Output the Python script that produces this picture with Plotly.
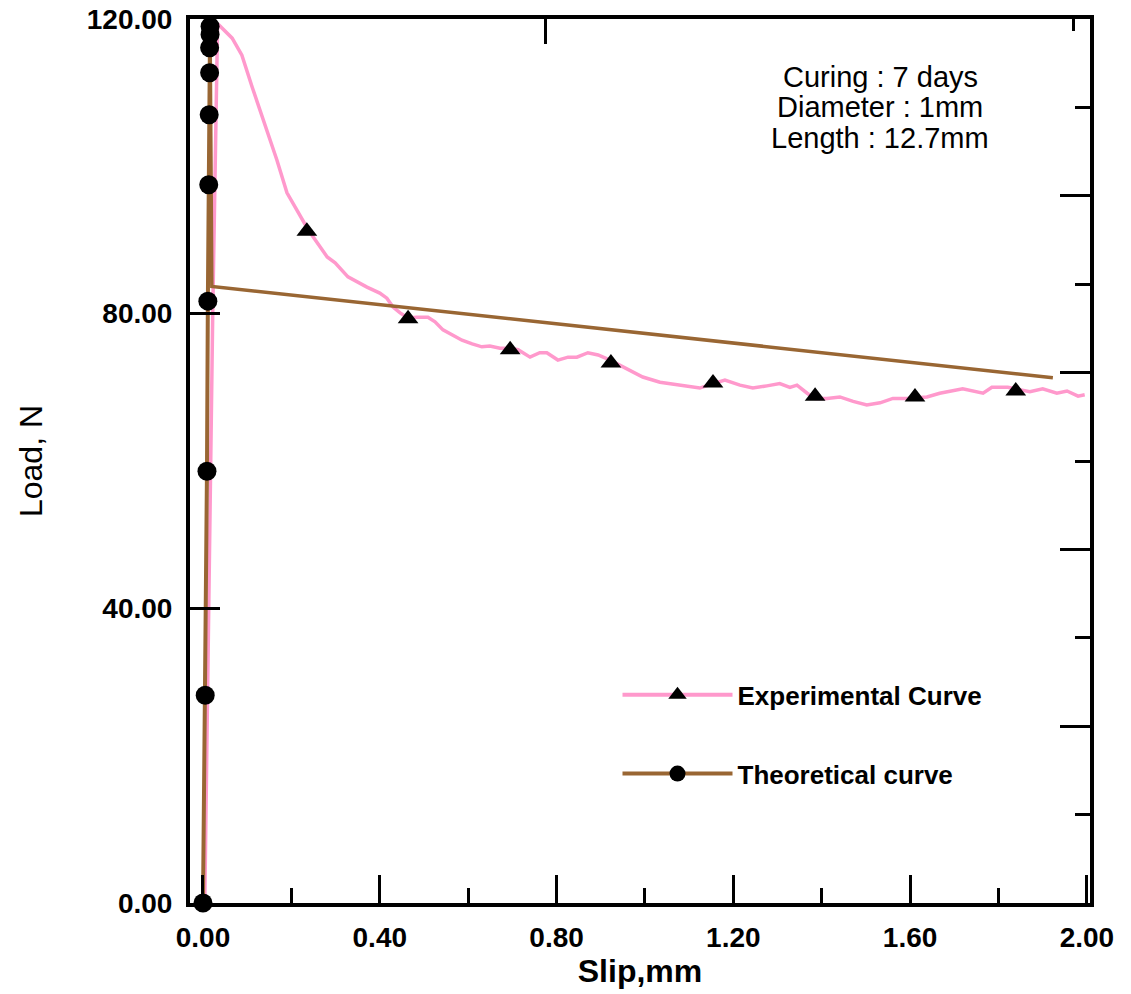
import plotly.graph_objects as go

# ---------------- data ----------------
# Experimental curve (pink line)
exp_slip = [0.004, 0.022, 0.033, 0.036, 0.066, 0.088, 0.111, 0.129, 0.152, 0.167, 0.190, 0.213, 0.238,
            0.281, 0.299, 0.328, 0.371, 0.400, 0.416, 0.430, 0.446, 0.464, 0.484, 0.509, 0.525,
            0.543, 0.566, 0.586, 0.609, 0.631, 0.649, 0.672, 0.695, 0.713, 0.740, 0.762, 0.778,
            0.803, 0.826, 0.846, 0.871, 0.894, 0.921, 0.950, 0.995, 1.034, 1.079, 1.124, 1.154,
            1.181, 1.215, 1.244, 1.276, 1.305, 1.328, 1.344, 1.367, 1.385, 1.412, 1.441, 1.471,
            1.502, 1.532, 1.561, 1.593, 1.638, 1.667, 1.719, 1.765, 1.785, 1.821, 1.871, 1.900,
            1.932, 1.955, 1.980, 1.995]
exp_load = [0.0, 80.0, 119.3, 119.2, 117.4, 115.1, 110.8, 107.6, 103.6, 100.9, 96.4, 94.1, 91.4,
            87.7, 86.9, 85.0, 83.6, 82.8, 82.1, 80.9, 80.1, 79.4, 79.5, 79.5, 78.9,
            77.8, 77.1, 76.4, 75.9, 75.5, 75.6, 75.3, 75.3, 75.1, 74.1, 74.7, 74.7,
            73.7, 74.1, 74.1, 74.7, 74.4, 73.7, 72.8, 71.4, 70.7, 70.3, 69.9, 70.5,
            71.0, 70.3, 69.9, 70.2, 70.5, 70.0, 70.3, 69.2, 68.5, 68.5, 68.7, 68.1,
            67.6, 67.9, 68.5, 68.5, 68.7, 69.2, 69.8, 69.2, 70.0, 70.0, 69.4, 69.8,
            69.2, 69.5, 68.8, 69.0]
# Experimental triangle markers
exp_mk_slip = [0.235, 0.464, 0.695, 0.923, 1.154, 1.385, 1.611, 1.839]
exp_mk_load = [91.2, 79.3, 75.1, 73.3, 70.6, 68.8, 68.7, 69.5]

# Theoretical curve: rising branch (with circles) and softening branch
theo_up_slip = [0.000, 0.005, 0.009, 0.011, 0.013, 0.014, 0.015, 0.015, 0.016, 0.016]
theo_up_load = [0.0, 28.2, 58.6, 81.7, 97.5, 107.0, 112.7, 116.1, 117.9, 119.0]
theo_down_slip = [0.016, 0.020, 1.923]
theo_down_load = [119.0, 83.7, 71.3]

# axis ticks
x_ticks = [0.0, 0.4, 0.8, 1.2, 1.6, 2.0]
y_ticks = [0, 40, 80, 120]
right_major = [24, 48, 72, 96]
right_minor = [12, 36, 60, 84, 108]
top_major = [0.774]
top_minor = [1.97]

annot_lines = ["Curing : 7 days", "Diameter : 1mm", "Length : 12.7mm"]
annot_y = [0.9344, 0.9005, 0.8654]

PINK = "#FF99CC"
BROWN = "#996633"
FONT = "Liberation Sans, Arial, sans-serif"

fig = go.Figure()

# pink experimental line
fig.add_trace(go.Scatter(x=exp_slip, y=exp_load, mode="lines",
                         line=dict(color=PINK, width=3.5), showlegend=False,
                         legendgroup="exp", hoverinfo="skip"))

# theoretical softening branch line
fig.add_trace(go.Scatter(x=theo_down_slip, y=theo_down_load, mode="lines",
                         line=dict(color=BROWN, width=3.5), showlegend=False,
                         legendgroup="theo", hoverinfo="skip"))

# experimental triangle markers (gaps so no chord lines are drawn)
tx, ty = [], []
for a, b in zip(exp_mk_slip, exp_mk_load):
    tx += [a, None]
    ty += [b, None]
fig.add_trace(go.Scatter(x=tx, y=ty, mode="lines+markers", name="Experimental Curve",
                         line=dict(color=PINK, width=4), connectgaps=False,
                         marker=dict(symbol="triangle-up", size=18, color="black"),
                         legendgroup="exp", cliponaxis=False,
                         xaxis="x2", yaxis="y2"))

# theoretical rising branch with circle markers
fig.add_trace(go.Scatter(x=theo_up_slip, y=theo_up_load, mode="lines+markers",
                         name="Theoretical curve",
                         line=dict(color=BROWN, width=4),
                         marker=dict(symbol="circle", size=19, color="black"),
                         legendgroup="theo", cliponaxis=False,
                         xaxis="x2", yaxis="y2"))

xr = [-0.0294, 2.007]
yr = [0, 120]

fig.update_layout(
    width=1131, height=994,
    margin=dict(l=190, r=41, t=19, b=91),
    paper_bgcolor="white", plot_bgcolor="white",
    font=dict(family=FONT, color="black"),
    xaxis=dict(range=xr, tickvals=x_ticks, ticktext=[f"{v:.2f}" for v in x_ticks],
               ticks="inside", ticklen=28, tickwidth=3, tickcolor="black",
               minor=dict(dtick=0.2, tick0=0, ticks="inside", ticklen=15, tickwidth=3, tickcolor="black"),
               showline=True, linewidth=4, linecolor="black", mirror=True,
               showgrid=False, zeroline=False, automargin=False,
               ticklabelstandoff=6,
               tickfont=dict(size=28, weight="bold", family=FONT),
               title=dict(text="Slip,mm", font=dict(size=32, weight="bold", family=FONT), standoff=8)),
    yaxis=dict(range=yr, tickvals=y_ticks, ticktext=[f"{v:.2f}" for v in y_ticks],
               ticks="inside", ticklen=30, tickwidth=3, tickcolor="black",
               showline=True, linewidth=4, linecolor="black", mirror=True,
               showgrid=False, zeroline=False, automargin=False,
               ticklabelstandoff=8,
               tickfont=dict(size=28, weight="bold", family=FONT),
               title=dict(text="Load, N", font=dict(size=32, family=FONT), standoff=36)),
    xaxis2=dict(range=xr, overlaying="x", side="top", tickvals=top_major,
                ticks="inside", ticklen=25, tickwidth=3, tickcolor="black",
                minor=dict(tickvals=top_minor, ticks="inside", ticklen=12, tickwidth=3, tickcolor="black"),
                showticklabels=False, showline=False, showgrid=False, zeroline=False,
                automargin=False),
    yaxis2=dict(range=yr, overlaying="y", side="right", tickvals=right_major,
                ticks="inside", ticklen=30, tickwidth=3, tickcolor="black",
                minor=dict(tickvals=right_minor, ticks="inside", ticklen=15, tickwidth=3, tickcolor="black"),
                showticklabels=False, showline=False, showgrid=False, zeroline=False,
                automargin=False),
    legend=dict(x=0.475, y=0.262, xanchor="left", yanchor="top",
                font=dict(size=26, weight="bold", family=FONT),
                bgcolor="rgba(0,0,0,0)", tracegroupgap=42, itemwidth=110,
                itemsizing="trace"),
    annotations=[dict(text=t, xref="paper", yref="paper",
                      x=0.767, y=yy, xanchor="center", yanchor="middle",
                      showarrow=False, align="center",
                      font=dict(size=29, family=FONT))
                 for t, yy in zip(annot_lines, annot_y)],
)

fig.write_html("out.html")
